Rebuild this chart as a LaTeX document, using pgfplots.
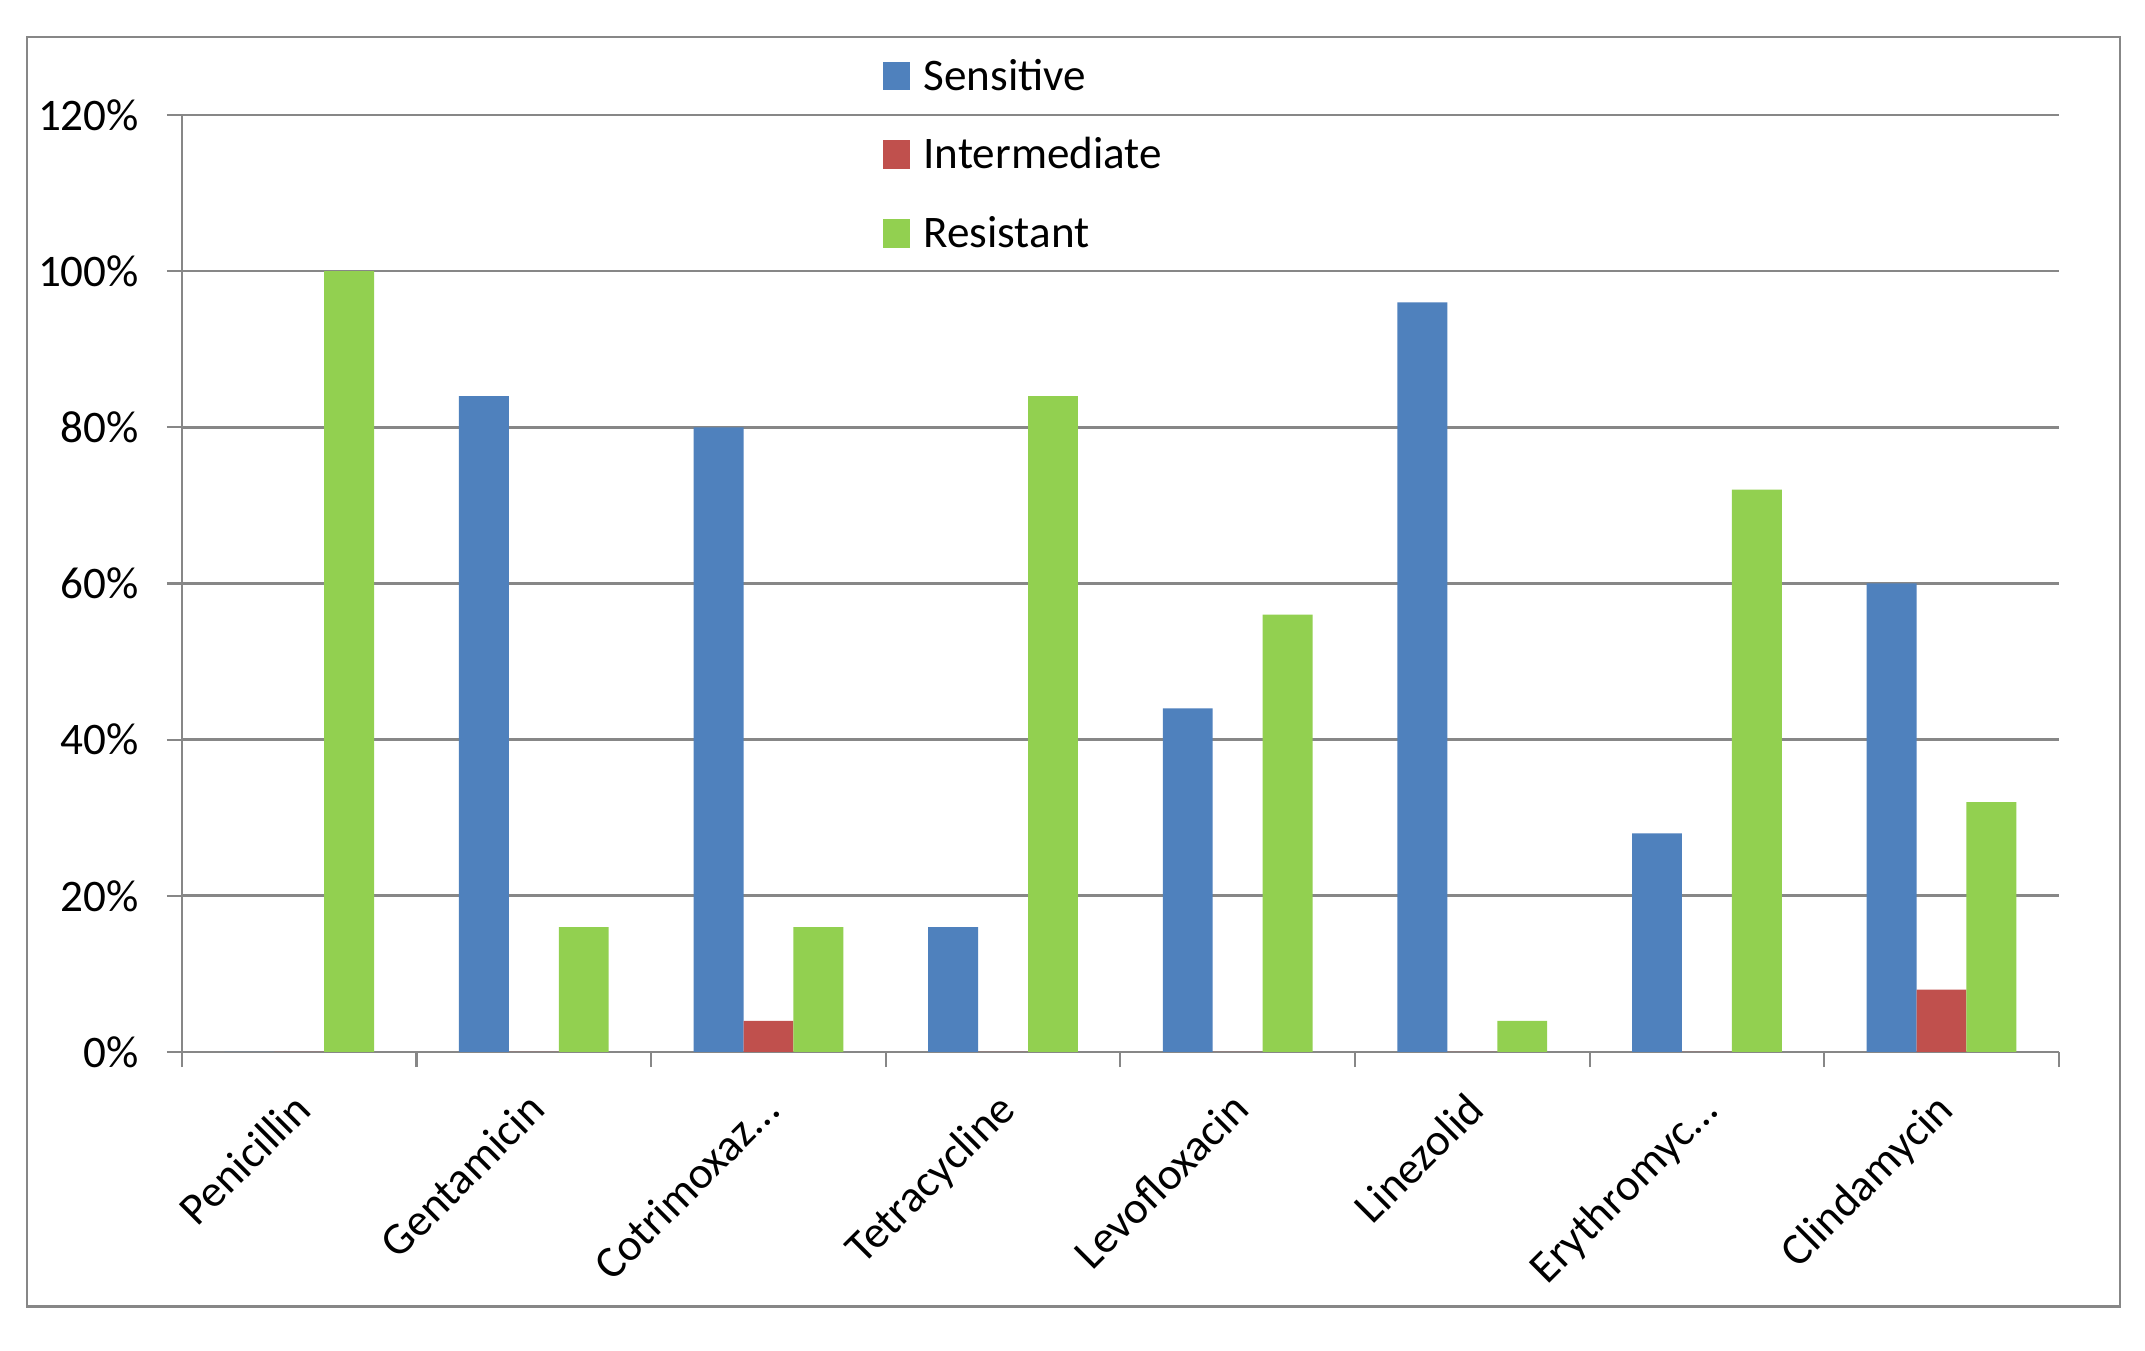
\documentclass[border=0pt]{standalone}
\usepackage{pgfplots}
\pgfplotsset{compat=1.18}
\usepackage{fontspec}
\setmainfont{Carlito}
\definecolor{sblue}{HTML}{4F81BD}
\definecolor{sred}{HTML}{C0504D}
\definecolor{sgreen}{HTML}{92D050}
\definecolor{gridgray}{HTML}{878787}
\newcommand\dd{...}
\begin{document}
\begin{tikzpicture}
\useasboundingbox (-66.5pt,-109pt) rectangle (717.5pt,384.5pt);
\fill[white] (-66.5pt,-109pt) rectangle (717.5pt,384.5pt);
\draw[color=gridgray, line width=0.8pt] (-56.5pt,-93pt) rectangle (708.5pt,371pt);
\begin{axis}[
  at={(0,0)}, anchor=south west,
  width=686pt, height=342.5pt, scale only axis,
  ybar, bar width=0.2128,
  xmin=-0.5, xmax=7.5, ymin=0, ymax=120,
  axis x line=bottom, axis y line=left,
  axis line style={-, color=gridgray, line width=0.8pt},
  tick align=outside, major tick length=5.5pt,
  tick style={color=gridgray, line width=0.8pt},
  xtick={-0.5,0.5,...,7.5},
  x tick label as interval,
  xticklabels={Penicillin,Gentamicin,Cotrimoxaz\dd,Tetracycline,Levofloxacin,Linezolid,Erythromyc\dd,Clindamycin},
  xticklabel style={rotate=45, anchor=north east, inner sep=0pt, xshift=-7.9pt, yshift=-3.6pt},
  ytick={0,20,...,120},
  yticklabels={0\%,20\%,40\%,60\%,80\%,100\%,120\%},
  yticklabel style={anchor=east, inner sep=0pt, xshift=-10pt},
  tick label style={font=\fontsize{16.5}{20}\selectfont, text=black},
  ymajorgrids, grid style={color=gridgray, line width=1pt},
  legend style={at={(axis description cs:0.373,1)}, anchor=north west, yshift=21.2pt,
    draw=none, fill=none, inner sep=0pt, row sep=12.75pt, column sep=5pt,
    font=\fontsize{16.5}{20}\selectfont,
    nodes={inner sep=0pt, text height=12pt, text depth=4pt}},
  legend cell align=left,
  legend image code/.code={\fill[#1] (0pt,-4pt) rectangle (10pt,6.5pt);},
]
\addplot[fill=sblue, draw=none, bar shift=-0.2128] coordinates {(0,0) (1,84) (2,80) (3,16) (4,44) (5,96) (6,28) (7,60)};
\addplot[fill=sred, draw=none, bar shift=0] coordinates {(0,0) (1,0) (2,4) (3,0) (4,0) (5,0) (6,0) (7,8)};
\addplot[fill=sgreen, draw=none, bar shift=0.2128] coordinates {(0,100) (1,16) (2,16) (3,84) (4,56) (5,4) (6,72) (7,32)};
\legend{Sensitive,Intermediate,Resistant}
\end{axis}
\end{tikzpicture}
\end{document}
